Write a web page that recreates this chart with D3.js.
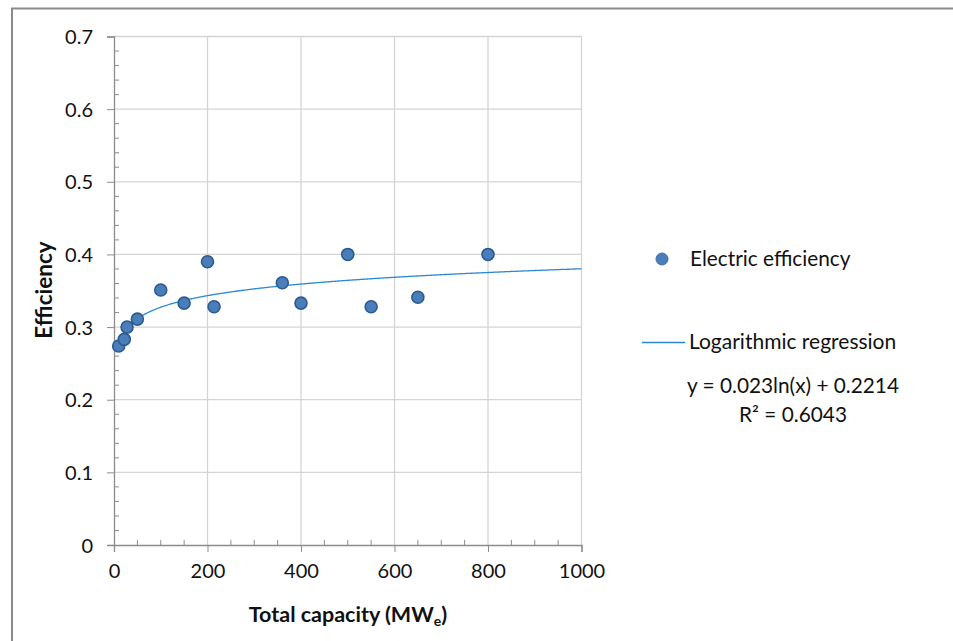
<!DOCTYPE html>
<html><head><meta charset="utf-8">
<script src="https://cdn.jsdelivr.net/npm/d3@7"></script>
<style>
body{margin:0;background:#fff;}
svg{display:block;font-family:Lato,"Open Sans",sans-serif;}
</style></head>
<body>
<svg id="c" width="953" height="641"></svg>
<script>
// ---- data ----
const capacity   = [10, 22, 28, 50, 100, 150, 200, 214, 360, 400, 500, 550, 650, 800];
const efficiency = [0.274, 0.283, 0.300, 0.311, 0.351, 0.333, 0.390, 0.328, 0.361, 0.333, 0.400, 0.328, 0.341, 0.400];
const regA = 0.023, regB = 0.2214;        // y = a ln(x) + b
const regR2 = "0.6043";
const xTicks = [0, 200, 400, 600, 800, 1000];
const yTicks = [0, 0.1, 0.2, 0.3, 0.4, 0.5, 0.6, 0.7];
const seriesName = "Electric efficiency";
const trendName = "Logarithmic regression";

const svg = d3.select("#c");
const x = d3.scaleLinear().domain([0, 1000]).range([114, 581.5]);
const y = d3.scaleLinear().domain([0, 0.7]).range([545, 36.5]);
const txtCol = "#111";

// outer frame (partial, top + left)
svg.append("path").attr("d","M12,641 V8.5 H953").attr("fill","none").attr("stroke","#8a8a8a").attr("stroke-width",2);

// gridlines
svg.append("g").selectAll("line").data(yTicks.slice(1)).join("line")
  .attr("x1",x(0)).attr("x2",x(1000)).attr("y1",d=>y(d)).attr("y2",d=>y(d))
  .attr("stroke","#d4d4d4").attr("stroke-width",1.3);
svg.append("g").selectAll("line").data(xTicks.slice(1)).join("line")
  .attr("y1",y(0)).attr("y2",y(0.7)).attr("x1",d=>x(d)).attr("x2",d=>x(d))
  .attr("stroke","#d4d4d4").attr("stroke-width",1.3);

const axisCol = "#8c8c8c";
// minor ticks
const yMinor = d3.range(0, 0.7001, 0.02).filter(v => Math.abs(v*10 - Math.round(v*10)) > 1e-6);
svg.append("g").selectAll("line").data(yMinor).join("line")
  .attr("x1",x(0)).attr("x2",x(0)+5).attr("y1",d=>y(d)).attr("y2",d=>y(d))
  .attr("stroke",axisCol).attr("stroke-width",1);
const xMinor = d3.range(50, 1000, 50).filter(v => v % 200 !== 0);
svg.append("g").selectAll("line").data(xMinor).join("line")
  .attr("y1",y(0)).attr("y2",y(0)-5).attr("x1",d=>x(d)).attr("x2",d=>x(d))
  .attr("stroke",axisCol).attr("stroke-width",1);

// axes
const yAxis = svg.append("g").attr("transform",`translate(${x(0)},0)`)
  .call(d3.axisLeft(y).tickValues(yTicks).tickFormat(d=>d===0?"0":d3.format(".1f")(d)).tickSize(7).tickPadding(14));
const xAxis = svg.append("g").attr("transform",`translate(0,${y(0)})`)
  .call(d3.axisBottom(x).tickValues(xTicks).tickFormat(d3.format("d")).tickSize(7).tickPadding(12));
[yAxis,xAxis].forEach(g=>{
  g.select(".domain").attr("stroke",axisCol).attr("stroke-width",1.3);
  g.selectAll(".tick line").attr("stroke",axisCol).attr("stroke-width",1);
  g.selectAll("text").attr("font-family","Lato, sans-serif").attr("font-size",20).attr("fill",txtCol);
});
yAxis.selectAll("text").attr("dy","0.35em");

// regression curve
const xs = d3.range(10, 1000.1, 2);
svg.append("path").datum(xs)
  .attr("d", d3.line().x(d=>x(d)).y(d=>y(regA*Math.log(d)+regB)))
  .attr("fill","none").attr("stroke","#2a88d4").attr("stroke-width",1.3);

// points
svg.append("g").selectAll("circle").data(capacity.map((c,i)=>[c,efficiency[i]])).join("circle")
  .attr("cx",d=>x(d[0])).attr("cy",d=>y(d[1])).attr("r",6)
  .attr("fill","#4a7ebb").attr("stroke","#2c5a8e").attr("stroke-width",1.6);

// axis titles
svg.append("text").attr("x",348).attr("y",622).attr("text-anchor","middle")
  .attr("font-size",21.5).attr("font-weight","bold").attr("fill",txtCol)
  .call(t=>{t.append("tspan").text("Total capacity (MW");
            t.append("tspan").attr("font-size",14).attr("dy",4).text("e");
            t.append("tspan").attr("dy",-4).text(")");});
svg.append("text").attr("transform","translate(52,290) rotate(-90)").attr("text-anchor","middle")
  .attr("font-size",22.5).attr("font-weight","bold").attr("fill",txtCol).text("Efficiency");

// legend
svg.append("circle").attr("cx",662).attr("cy",259).attr("r",6).attr("fill","#4a7ebb").attr("stroke","#3f70a8").attr("stroke-width",1);
svg.append("text").attr("x",690).attr("y",266).attr("font-size",20.8).attr("fill",txtCol).text(seriesName);
svg.append("line").attr("x1",642).attr("x2",685).attr("y1",342.5).attr("y2",342.5).attr("stroke","#2a88d4").attr("stroke-width",1.3);
svg.append("text").attr("x",689).attr("y",349).attr("font-size",21).attr("fill",txtCol).text(trendName);
svg.append("text").attr("x",793).attr("y",393).attr("text-anchor","middle").attr("font-size",20.8).attr("fill",txtCol)
  .text(`y = ${regA}ln(x) + ${regB}`);
svg.append("text").attr("x",793).attr("y",422).attr("text-anchor","middle").attr("font-size",20.8).attr("fill",txtCol)
  .text(`R² = ${regR2}`);
</script>
</body></html>
